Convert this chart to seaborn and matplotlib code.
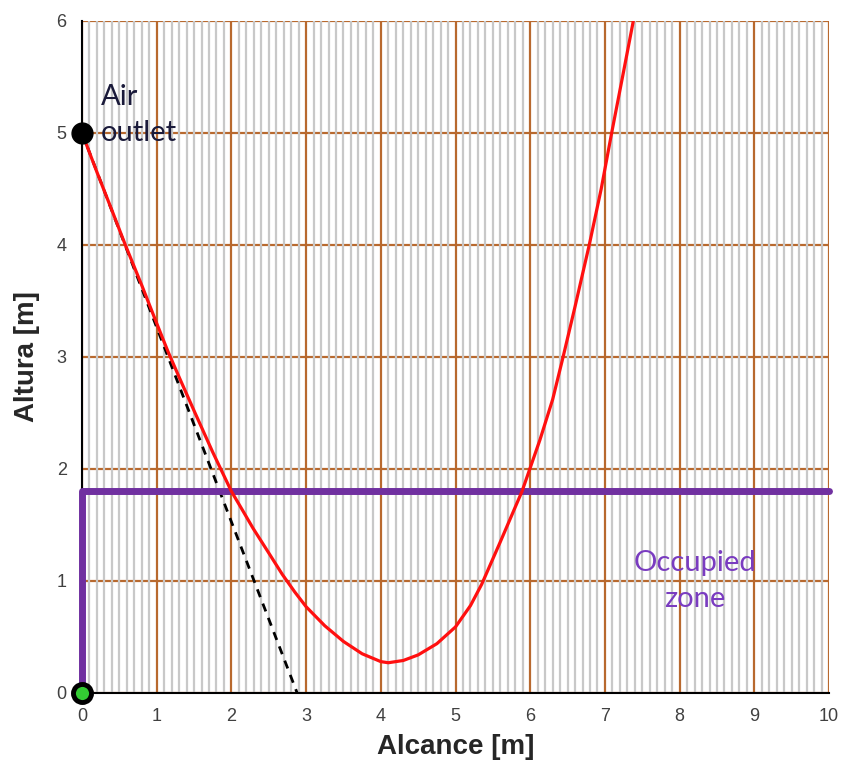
import numpy as np
import pandas as pd
import matplotlib
matplotlib.use("Agg")
import matplotlib.pyplot as plt
from matplotlib.ticker import MultipleLocator
import seaborn as sns

# jet trajectory
alcance = [0.0, 0.2, 0.4, 0.58, 0.8, 1.0, 1.15, 1.3, 1.5, 1.75, 2.0, 2.15, 2.29, 2.5,
           2.68, 2.85, 3.0, 3.25, 3.5, 3.75, 4.0, 4.1, 4.3, 4.5, 4.75, 5.0, 5.2, 5.35,
           5.6, 5.89, 6.13, 6.3, 6.44, 6.6, 6.79, 6.95, 7.09, 7.25, 7.38]
altura = [5.0, 4.65, 4.31, 4.0, 3.64, 3.3, 3.05, 2.82, 2.52, 2.15, 1.8, 1.63, 1.47, 1.25,
          1.06, 0.9, 0.77, 0.6, 0.46, 0.35, 0.28, 0.27, 0.29, 0.34, 0.44, 0.59, 0.78, 0.97,
          1.35, 1.8, 2.26, 2.62, 3.0, 3.45, 4.0, 4.5, 5.0, 5.55, 6.0]

# tangent at the outlet
tang_x = [0.0, 2.88]
tang_y = [5.0, 0.0]

# occupied zone limit
zona_x = [0.0, 0.0, 10.0]
zona_y = [0.0, 1.8, 1.8]

outlet = (0.0, 5.0)
origen = (0.0, 0.0)

sns.set_style("white")
plt.rcParams['font.family'] = ['Liberation Sans', 'DejaVu Sans']

fig = plt.figure(figsize=(8.42, 7.71), dpi=100)
ax = fig.add_axes([0.0974, 0.1012, 0.8872, 0.8716])

brown = "#B8692E"
ax.set_xlim(0, 10)
ax.set_ylim(0, 6)
ax.xaxis.set_major_locator(MultipleLocator(1))
ax.xaxis.set_minor_locator(MultipleLocator(0.1))
ax.yaxis.set_major_locator(MultipleLocator(1))
ax.yaxis.set_minor_locator(MultipleLocator(0.5))
ax.grid(which="major", axis="both", color=brown, lw=1.6)
ax.grid(which="minor", axis="x", color="#C8C8C8", lw=1.6)
ax.grid(which="minor", axis="y", visible=False)
ax.yaxis.set_zorder(1.0)
ax.xaxis.set_zorder(1.5)

for s in ["top", "right"]:
    ax.spines[s].set_visible(False)
for s in ["left", "bottom"]:
    ax.spines[s].set_color("black")
    ax.spines[s].set_linewidth(1.5)
    ax.spines[s].set_zorder(3)
ax.tick_params(which="major", direction="inout", length=10, width=1.3, color="black",
               labelsize=13, labelcolor="#404040")
ax.tick_params(which="minor", direction="inout", length=8, width=1.2, color="black")
ax.tick_params(axis="x", pad=6)
ax.tick_params(axis="y", pad=6)

sns.lineplot(x=tang_x, y=tang_y, ax=ax, color="black", lw=2, linestyle=(0, (3, 2.5)),
             zorder=3, sort=False, estimator=None)
sns.lineplot(x=zona_x, y=zona_y, ax=ax, color="#7030A0", lw=5, zorder=4, sort=False,
             estimator=None)
ax.lines[-1].set_clip_on(False)
sns.lineplot(x=alcance, y=altura, ax=ax, color="#FF1010", lw=2.3, zorder=5, sort=False,
             estimator=None)
ax.lines[-1].set_solid_joinstyle("round")

ax.plot(*outlet, "o", color="black", ms=15, clip_on=False, zorder=6)
ax.plot(*origen, "o", color="black", ms=13, mfc="#33CC33", mew=3.5, clip_on=False, zorder=6)

ax.text(0.25, 4.88, "Air\noutlet", fontsize=21, color="#1A1A3A", family=["Lato", "DejaVu Sans"],
        ha="left", va="bottom", linespacing=1.5)
ax.text(8.2, 1.0, "Occupied\nzone", fontsize=21, color="#7A3CC0", family=["Lato", "DejaVu Sans"],
        ha="center", va="center", linespacing=1.5)

ax.set_xlabel("Alcance [m]", fontsize=20, fontweight="bold", labelpad=6)
ax.set_ylabel("Altura [m]", fontsize=20, fontweight="bold", labelpad=12)

fig.savefig("out.png", dpi=100)
